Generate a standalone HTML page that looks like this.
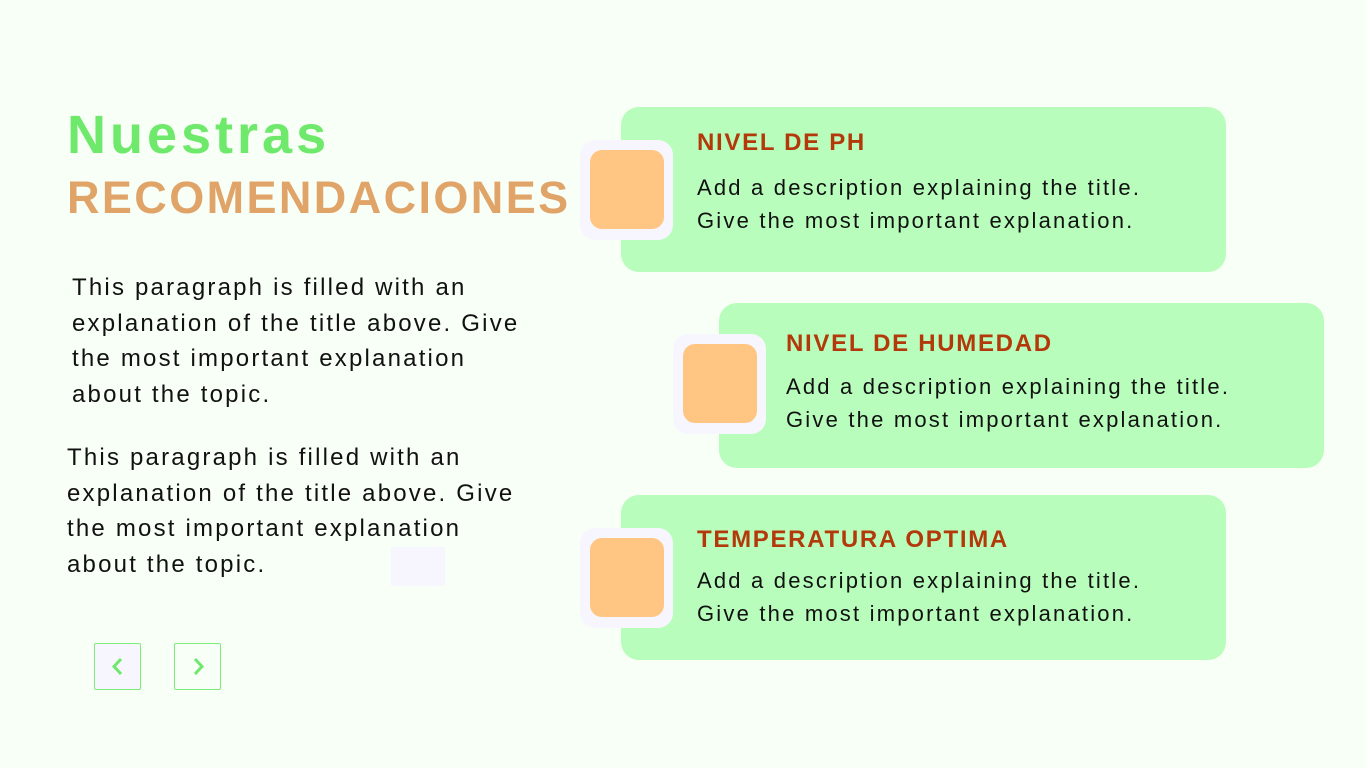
<!DOCTYPE html>
<html><head><meta charset="utf-8"><style>
body{margin:0;width:1366px;height:768px;background:#f8fff6;position:relative;overflow:hidden;font-family:"Liberation Sans",sans-serif;color:#111}
.a{position:absolute}
.card{position:absolute;width:605px;height:165px;background:#b8fdbb;border-radius:18px}
.ico{position:absolute;width:93px;height:100px;background:#f7f6fe;border-radius:15px}
.ico div{position:absolute;left:10px;top:10px;width:74px;height:79px;background:#ffc683;border-radius:12px}
.t{position:absolute;font-size:24px;font-weight:bold;color:#b3390b;letter-spacing:1.7px;white-space:nowrap}
.d{position:absolute;font-size:22px;line-height:33px;white-space:nowrap;letter-spacing:2.2px}
.p{position:absolute;font-size:24px;line-height:35.5px;letter-spacing:2.2px;white-space:nowrap}
.btn{position:absolute;width:45px;height:45px;border:1.5px solid #7ded7a;border-radius:2px;top:643px}
</style></head><body>
<div class="a" style="left:67px;top:104px;font-size:54px;font-weight:bold;color:#6fe96b;letter-spacing:4px">Nuestras</div>
<div class="a" style="left:67px;top:172px;font-size:45px;font-weight:bold;color:#e0a469;letter-spacing:2.4px">RECOMENDACIONES</div>
<div class="p" style="left:72px;top:270px">This paragraph is filled with an<br>explanation of the title above. Give<br>the most important explanation<br>about the topic.</div>
<div class="p" style="left:67px;top:440px">This paragraph is filled with an<br>explanation of the title above. Give<br>the most important explanation<br>about the topic.</div>
<div class="a" style="left:391px;top:547px;width:54px;height:39px;background:#f7f6fe"></div>
<div class="btn" style="left:94px;background:#f7f6fe"><svg width="45" height="45"><path d="M26 15 L19 22.5 L26 30" fill="none" stroke="#6ee86a" stroke-width="3"/></svg></div>
<div class="btn" style="left:174px"><svg width="45" height="45"><path d="M20 15 L27 22.5 L20 30" fill="none" stroke="#6ee86a" stroke-width="3"/></svg></div>

<div class="card" style="left:621px;top:107px"></div>
<div class="ico" style="left:580px;top:140px"><div></div></div>
<div class="t" style="left:697px;top:129px">NIVEL DE PH</div>
<div class="d" style="left:697px;top:171px">Add a description explaining the title.<br>Give the most important explanation.</div>

<div class="card" style="left:719px;top:303px"></div>
<div class="ico" style="left:673px;top:334px"><div></div></div>
<div class="t" style="left:786px;top:330px">NIVEL DE HUMEDAD</div>
<div class="d" style="left:786px;top:370px">Add a description explaining the title.<br>Give the most important explanation.</div>

<div class="card" style="left:621px;top:495px"></div>
<div class="ico" style="left:580px;top:528px"><div></div></div>
<div class="t" style="left:697px;top:526px">TEMPERATURA OPTIMA</div>
<div class="d" style="left:697px;top:564px">Add a description explaining the title.<br>Give the most important explanation.</div>
</body></html>
